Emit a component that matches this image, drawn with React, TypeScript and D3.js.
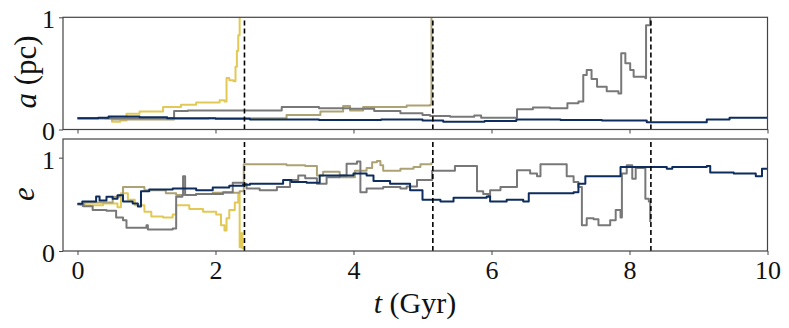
import React, { useEffect, useRef } from "react";
import * as d3 from "d3";

// semi-major axis a (pc) vs t (Gyr)
const yellowA = [
  [0, 0.1], [0.4, 0.095], [0.5, 0.07], [0.62, 0.08], [0.71, 0.14], [0.9, 0.16], [1.24, 0.2],
  [1.5, 0.22], [1.72, 0.24], [2.06, 0.26], [2.13, 0.25], [2.16, 0.46], [2.2, 0.44], [2.26, 0.43],
  [2.29, 0.56], [2.31, 0.7], [2.33, 0.84], [2.35, 1.0],
];
const khakiA = [
  [0, 0.1], [0.5, 0.09], [1.4, 0.095], [1.9, 0.1], [3.03, 0.13], [3.52, 0.16], [3.85, 0.21],
  [3.95, 0.17], [4.14, 0.2], [4.77, 0.215], [5.11, 0.22], [5.13, 1.0],
];
const grayA = [
  [0, 0.1], [1.4, 0.165], [1.6, 0.17], [2.5, 0.17], [2.96, 0.2], [3.5, 0.19], [3.95, 0.185],
  [4.3, 0.165], [4.68, 0.145], [5.0, 0.13], [5.11, 0.12], [5.4, 0.114], [5.75, 0.125],
  [5.85, 0.105], [6.37, 0.18], [6.6, 0.195], [6.85, 0.19], [7.1, 0.235], [7.26, 0.25],
  [7.33, 0.486], [7.38, 0.53], [7.45, 0.45], [7.53, 0.38], [7.67, 0.34], [7.84, 0.32],
  [7.88, 0.68], [7.94, 0.59], [8.01, 0.53], [8.06, 0.47], [8.23, 0.456], [8.24, 0.93], [8.3, 1.0],
];
const navyA = [
  [0, 0.1], [0.3, 0.105], [0.45, 0.115], [0.9, 0.11], [1.3, 0.1], [2.0, 0.095], [2.5, 0.09],
  [3.5, 0.085], [4.4, 0.09], [5.0, 0.08], [5.3, 0.07], [5.9, 0.075], [6.36, 0.09], [7.0, 0.085],
  [7.6, 0.08], [8.25, 0.065], [9.12, 0.09], [9.45, 0.105], [10, 0.1],
];

// eccentricity e vs t (Gyr)
const yellowE = [
  [0, 0.5], [0.05, 0.49], [0.37, 0.51], [0.58, 0.47], [0.63, 0.62], [0.73, 0.55], [0.83, 0.49],
  [0.97, 0.42], [1.07, 0.37], [1.24, 0.36], [1.38, 0.39], [1.43, 0.49], [1.62, 0.45], [1.82, 0.42],
  [2.01, 0.39], [2.08, 0.275], [2.13, 0.22], [2.16, 0.35], [2.2, 0.44], [2.28, 0.52], [2.33, 0.61],
  [2.35, 0.04], [2.37, 0.19], [2.39, 0.03], [2.42, 0.03],
];
const khakiE = [
  [0, 0.5], [0.1, 0.52], [0.51, 0.58], [0.61, 0.6], [0.66, 0.685], [0.97, 0.65], [1.28, 0.62],
  [1.43, 0.6], [1.72, 0.61], [1.96, 0.625], [2.35, 0.64], [2.41, 0.93], [3.03, 0.92], [3.3, 0.91],
  [3.47, 0.81], [3.56, 0.85], [3.8, 0.79], [4.02, 0.86], [4.19, 0.89], [4.27, 0.95], [4.34, 0.965],
  [4.39, 0.92], [4.43, 0.86], [4.68, 0.88], [4.87, 0.9], [4.97, 0.93], [5.13, 0.95],
];
const grayE = [
  [0, 0.5], [0.08, 0.48], [0.22, 0.44], [0.42, 0.43], [0.56, 0.36], [0.66, 0.33], [0.71, 0.25],
  [1.0, 0.275], [1.02, 0.23], [1.38, 0.24], [1.43, 0.58], [1.52, 0.6], [1.53, 0.8], [1.56, 0.6],
  [1.72, 0.61], [2.11, 0.63], [2.25, 0.73], [2.4, 0.72], [2.45, 0.67], [2.64, 0.65], [2.89, 0.685],
  [3.08, 0.76], [3.2, 0.81], [3.3, 0.78], [3.47, 0.72], [3.61, 0.79], [3.8, 0.81], [3.9, 0.935],
  [4.05, 0.96], [4.1, 0.63], [4.19, 0.67], [4.43, 0.685], [4.68, 0.67], [4.77, 0.69], [4.92, 0.76],
  [5.14, 0.86], [5.47, 0.91], [5.79, 0.64], [5.88, 0.61], [5.96, 0.58], [5.98, 0.65], [6.13, 0.685],
  [6.37, 0.865], [6.56, 0.83], [6.66, 0.8], [6.71, 0.93], [7.09, 0.8], [7.19, 0.74], [7.26, 0.685],
  [7.31, 0.275], [7.38, 0.35], [7.48, 0.34], [7.55, 0.275], [7.72, 0.33], [7.8, 0.44], [7.87, 0.36],
  [7.89, 0.83], [7.96, 0.92], [8.04, 0.775], [8.09, 0.89], [8.23, 0.56], [8.28, 0.53], [8.3, 0.31],
];
const navyE = [
  [0, 0.507], [0.07, 0.53], [0.27, 0.585], [0.32, 0.54], [0.42, 0.58], [0.51, 0.56], [0.58, 0.596],
  [0.66, 0.53], [0.8, 0.51], [0.875, 0.478], [0.92, 0.64], [1.04, 0.66], [1.38, 0.67], [1.72, 0.65],
  [1.96, 0.68], [2.2, 0.7], [2.4, 0.71], [2.5, 0.72], [2.98, 0.76], [3.1, 0.74], [3.32, 0.73],
  [3.51, 0.81], [4.0, 0.83], [4.19, 0.81], [4.29, 0.75], [4.53, 0.72], [4.82, 0.65], [5.0, 0.55],
  [5.26, 0.53], [5.45, 0.57], [5.93, 0.585], [5.98, 0.53], [6.22, 0.55], [6.46, 0.53], [6.54, 0.62],
  [7.19, 0.63], [7.26, 0.72], [7.36, 0.8], [7.87, 0.9], [8.54, 0.88], [8.62, 0.9], [9.12, 0.91],
  [9.17, 0.84], [9.51, 0.83], [9.83, 0.8], [9.92, 0.88], [10, 0.88],
];

const disruptions = [2.42, 5.15, 8.31];
const xTicks = [0, 2, 4, 6, 8, 10];
const aTicks = [0, 1];
const eTicks = [0, 1];

const colors = { yellow: "#E2C955", khaki: "#ADA273", gray: "#787878", navy: "#0C2D5E" };
const FONT = "'Liberation Serif', 'DejaVu Serif', serif";

export default function App() {
  const ref = useRef<SVGSVGElement>(null);

  useEffect(() => {
    const svg = d3.select(ref.current);
    svg.selectAll("*").remove();

    const x = d3.scaleLinear().domain([-0.21, 10]).range([63, 767.5]);

    const panels = [
      { id: "pa", y: d3.scaleLinear().domain([0, 1]).range([129.5, 17.3]), ticks: aTicks,
        series: [[yellowA, colors.yellow], [khakiA, colors.khaki], [grayA, colors.gray], [navyA, colors.navy]] },
      { id: "pe", y: d3.scaleLinear().domain([0, 1.2]).range([251, 139]), ticks: eTicks,
        series: [[yellowE, colors.yellow], [khakiE, colors.khaki], [grayE, colors.gray], [navyE, colors.navy]] },
    ];

    panels.forEach((p, idx) => {
      const [y0, y1] = p.y.range();
      const g = svg.append("g");

      g.append("clipPath").attr("id", p.id)
        .append("rect")
        .attr("x", x.range()[0]).attr("y", y1)
        .attr("width", x.range()[1] - x.range()[0]).attr("height", y0 - y1);

      const line = d3.line<number[]>()
        .x(d => x(d[0]))
        .y(d => p.y(d[1]))
        .curve(d3.curveStepAfter);

      const plot = g.append("g").attr("clip-path", `url(#${p.id})`);
      p.series.forEach(([data, c]) => {
        plot.append("path")
          .attr("d", line(data as number[][]))
          .attr("fill", "none")
          .attr("stroke", c as string)
          .attr("stroke-width", 2)
          .attr("stroke-linejoin", "round");
      });

      plot.selectAll("line.dis")
        .data(disruptions)
        .enter()
        .append("line")
        .attr("x1", d => x(d)).attr("x2", d => x(d))
        .attr("y1", y0).attr("y2", y1)
        .attr("stroke", "#000")
        .attr("stroke-width", 1.6)
        .attr("stroke-dasharray", "5,3");

      // axes
      const xAxis = d3.axisBottom(x).tickValues(xTicks).tickSize(4).tickPadding(6);
      if (idx === 0) xAxis.tickFormat(() => "");
      const gx = g.append("g").attr("transform", `translate(0,${y0})`).call(xAxis);
      gx.select(".domain").remove();
      gx.selectAll("text").style("font-family", FONT).style("font-size", "26px").attr("fill", "#111");

      const gy = g.append("g").attr("transform", `translate(${x.range()[0]},0)`)
        .call(d3.axisLeft(p.y).tickValues(p.ticks).tickFormat(d3.format("d")).tickSize(4).tickPadding(4));
      gy.select(".domain").remove();
      gy.selectAll("text").style("font-family", FONT).style("font-size", "26px").attr("fill", "#111").attr("dy", "0.4em");
      svg.selectAll(".tick line").attr("stroke", "#444");

      g.append("rect")
        .attr("x", x.range()[0]).attr("y", y1)
        .attr("width", x.range()[1] - x.range()[0]).attr("height", y0 - y1)
        .attr("fill", "none").attr("stroke", "#444").attr("stroke-width", 1.2);
    });

    // axis labels
    const la = svg.append("text")
      .attr("transform", "translate(36,72) rotate(-90)")
      .attr("text-anchor", "middle")
      .style("font-family", FONT).style("font-size", "31px").attr("fill", "#111");
    la.append("tspan").style("font-style", "italic").text("a");
    la.append("tspan").text(" (pc)");

    svg.append("text")
      .attr("transform", "translate(34,194) rotate(-90)")
      .attr("text-anchor", "middle")
      .style("font-family", FONT).style("font-size", "31px").style("font-style", "italic").attr("fill", "#111")
      .text("e");

    const lt = svg.append("text")
      .attr("x", 415).attr("y", 313)
      .attr("text-anchor", "middle")
      .style("font-family", FONT).style("font-size", "30px").attr("fill", "#111");
    lt.append("tspan").style("font-style", "italic").text("t");
    lt.append("tspan").text(" (Gyr)");
  }, []);

  return (
    <>
      <style>{`body{margin:0}`}</style>
      <svg ref={ref} width={789} height={328} style={{ display: "block", background: "#fff" }} />
    </>
  );
}
